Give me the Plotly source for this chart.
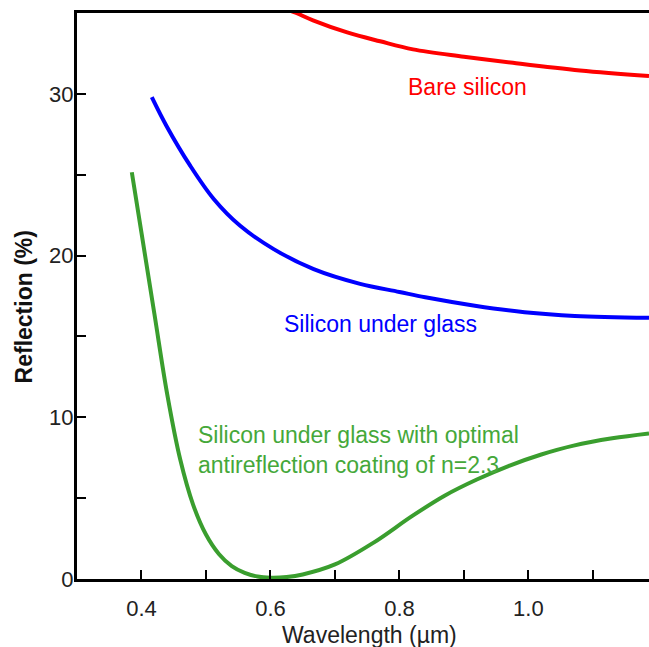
import plotly.graph_objects as go

# Wavelength (µm) and reflection (%)
bare_x = [0.630, 0.640, 0.666, 0.719, 0.770, 0.821, 0.900, 0.976, 1.080, 1.187]
bare_y = [35.15, 35.00, 34.55, 33.80, 33.25, 32.75, 32.30, 31.92, 31.45, 31.10]

glass_x = [0.416, 0.439, 0.4755, 0.512, 0.553, 0.605, 0.667, 0.739, 0.800, 0.840, 0.917, 0.994, 1.072, 1.187]
glass_y = [29.80, 28.00, 25.56, 23.50, 21.84, 20.40, 19.16, 18.25, 17.75, 17.42, 16.90, 16.50, 16.27, 16.15]

arc_x = [0.385, 0.400, 0.420, 0.440, 0.460, 0.480, 0.500, 0.520, 0.540, 0.560, 0.580, 0.600,
         0.625, 0.650, 0.700, 0.760, 0.820, 0.870, 0.920, 0.970, 1.020, 1.070, 1.130, 1.187]
arc_y = [25.15, 21.40, 16.40, 11.40, 7.40, 4.60, 2.75, 1.55, 0.80, 0.38, 0.15, 0.08,
         0.12, 0.28, 0.90, 2.25, 3.90, 5.15, 6.15, 7.00, 7.70, 8.25, 8.70, 9.00]

x_tick_vals = [0.4, 0.6, 0.8, 1.0]
x_tick_text = ["0.4", "0.6", "0.8", "1.0"]
y_tick_vals = [0, 10, 20, 30]
y_tick_text = ["0", "10", "20", "30"]

FONT = "Liberation Sans, Arial, sans-serif"
RED = "#ff0000"
BLUE = "#0000ff"
GREEN = "#3a9e2e"
GREEN_TXT = "#45a83a"

fig = go.Figure()
fig.add_trace(go.Scatter(x=bare_x, y=bare_y, mode="lines",
                         line=dict(color=RED, width=4, shape="spline"), showlegend=False))
fig.add_trace(go.Scatter(x=glass_x, y=glass_y, mode="lines",
                         line=dict(color=BLUE, width=4, shape="spline"), showlegend=False))
fig.add_trace(go.Scatter(x=arc_x, y=arc_y, mode="lines",
                         line=dict(color=GREEN, width=4, shape="spline"), showlegend=False))

fig.add_annotation(x=0.905, y=30.44, text="Bare silicon", showarrow=False,
                   font=dict(family=FONT, size=23, color=RED), xanchor="center", yanchor="middle")
fig.add_annotation(x=0.770, y=15.75, text="Silicon under glass", showarrow=False,
                   font=dict(family=FONT, size=23, color=BLUE), xanchor="center", yanchor="middle")
fig.add_annotation(x=0.484, y=7.97,
                   text="Silicon under glass with optimal<br>antireflection coating of n=2.3",
                   showarrow=False, align="left",
                   font=dict(family=FONT, size=23, color=GREEN_TXT), xanchor="left", yanchor="middle")

# axis titles
fig.add_annotation(xref="paper", yref="paper", x=0.512, y=-0.099, text="Wavelength (µm)",
                   showarrow=False, font=dict(family=FONT, size=23, color="#222222"),
                   xanchor="center", yanchor="middle")
fig.add_annotation(xref="paper", yref="paper", x=-0.091, y=0.4815, text="<b>Reflection (%)</b>",
                   showarrow=False, textangle=-90, font=dict(family=FONT, size=23, color="#111111"),
                   xanchor="center", yanchor="middle")

fig.update_layout(
    width=649, height=647,
    margin=dict(l=77, r=0, t=13, b=68),
    paper_bgcolor="white", plot_bgcolor="white",
    font=dict(family=FONT, size=22, color="#222222"),
    xaxis=dict(range=[0.3, 1.187], tickvals=x_tick_vals, ticktext=x_tick_text,
               ticks="inside", ticklen=9, tickwidth=2, tickcolor="black",
               showline=True, linecolor="black", linewidth=3, mirror=True,
               showgrid=False, zeroline=False, ticklabelstandoff=8,
               minor=dict(tickvals=[0.5, 0.7, 0.9, 1.1], ticks="inside", ticklen=9,
                          tickwidth=2, tickcolor="black", showgrid=False)),
    yaxis=dict(range=[0, 35], tickvals=y_tick_vals, ticktext=y_tick_text,
               ticks="inside", ticklen=9, tickwidth=2, tickcolor="black",
               showline=True, linecolor="black", linewidth=3, mirror=False,
               showgrid=False, zeroline=False, ticklabelstandoff=-4,
               minor=dict(tickvals=[5, 15, 25], ticks="inside", ticklen=9,
                          tickwidth=2, tickcolor="black", showgrid=False)),
)

fig.write_html("out.html", config={"displayModeBar": False},
               post_script="document.body.style.margin='0';")
